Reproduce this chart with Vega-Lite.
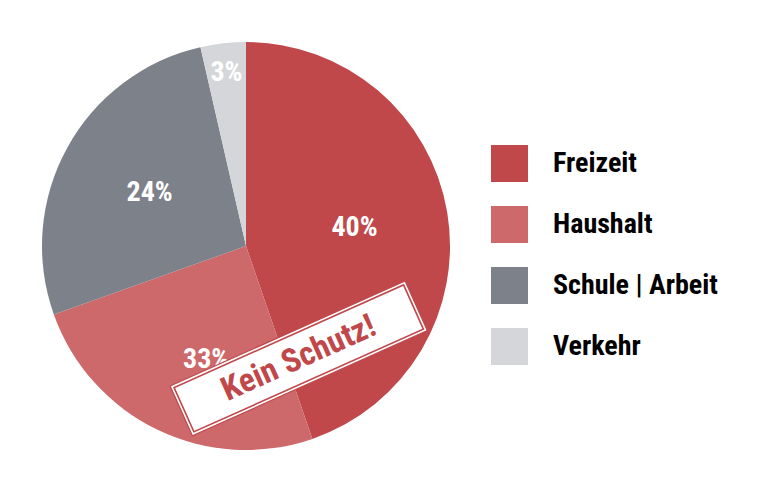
{
  "$schema": "https://vega.github.io/schema/vega-lite/v6.json",
  "description": "Unfallorte: Freizeit, Haushalt, Schule | Arbeit, Verkehr",
  "width": 492,
  "height": 492,
  "autosize": {"type": "none"},
  "padding": {"left": 0, "top": 0, "right": 276, "bottom": 0},
  "background": "white",
  "view": {"stroke": null},
  "config": {
    "font": "Roboto Condensed, Roboto",
    "legend": {
      "orient": "none",
      "legendX": 491,
      "legendY": 145,
      "title": null,
      "symbolType": "square",
      "symbolSize": 1369,
      "symbolStrokeWidth": 0,
      "symbolOpacity": 1,
      "rowPadding": 24,
      "labelOffset": 25,
      "labelFont": "Roboto Condensed, Roboto",
      "labelFontSize": 28,
      "labelFontWeight": "bold",
      "labelColor": "black",
      "labelLimit": 300,
      "padding": 0
    }
  },
  "layer": [
    {
      "data": {
        "values": [
          {"category": "Freizeit", "sector": 161, "label": "40%"},
          {"category": "Haushalt", "sector": 89.4, "label": "33%"},
          {"category": "Schule | Arbeit", "sector": 96.7, "label": "24%"},
          {"category": "Verkehr", "sector": 12.9, "label": "3%"}
        ]
      },
      "layer": [
        {
          "mark": {"type": "arc", "outerRadius": 204, "stroke": null},
          "encoding": {
            "theta": {"field": "sector", "type": "quantitative", "stack": true},
            "order": {"field": "category", "sort": "ascending"},
            "color": {
              "field": "category",
              "type": "nominal",
              "scale": {
                "domain": ["Freizeit", "Haushalt", "Schule | Arbeit", "Verkehr"],
                "range": ["#c0474a", "#cd696b", "#7c818a", "#d5d6d9"]
              },
              "legend": {}
            }
          }
        },
        {
          "mark": {
            "type": "text",
            "color": "white",
            "fontSize": 28,
            "fontWeight": "bold",
            "align": "center",
            "baseline": "middle",
            "radius": {"expr": "datum.label == '3%' ? 174 : datum.label == '33%' ? 122 : 110"},
            "dx": {"expr": "datum.label == '33%' ? 13 : 0"},
            "dy": {"expr": "datum.label == '33%' ? 4 : 0"}
          },
          "encoding": {
            "theta": {"field": "sector", "type": "quantitative", "stack": true},
            "order": {"field": "category", "sort": "ascending"},
            "text": {"field": "label", "type": "nominal"}
          }
        }
      ]
    },
    {
      "data": {"values": [{"note": "Kein Schutz!"}]},
      "encoding": {
        "x": {"datum": 0.2144, "type": "quantitative", "scale": {"domain": [-1, 1]}, "axis": null},
        "y": {"datum": -0.4567, "type": "quantitative", "scale": {"domain": [-1, 1]}, "axis": null}
      },
      "layer": [
        {
          "mark": {
            "type": "point",
            "shape": "M-1,-0.2117H1V0.2117H-1Z",
            "size": 66255,
            "angle": 335.9,
            "filled": true,
            "fill": "white",
            "stroke": "#c0474a",
            "strokeWidth": 1.2,
            "opacity": 1
          }
        },
        {
          "mark": {
            "type": "point",
            "shape": "M-0.9767,-0.1884H0.9767V0.1884H-0.9767Z",
            "size": 66255,
            "angle": 335.9,
            "filled": false,
            "fill": null,
            "stroke": "#c0474a",
            "strokeWidth": 1.6,
            "opacity": 1
          }
        },
        {
          "mark": {
            "type": "text",
            "angle": 335.9,
            "color": "#c0474a",
            "fontSize": 33,
            "fontWeight": "bold",
            "align": "center",
            "baseline": "middle"
          },
          "encoding": {
            "text": {"field": "note", "type": "nominal"}
          }
        }
      ]
    }
  ]
}
